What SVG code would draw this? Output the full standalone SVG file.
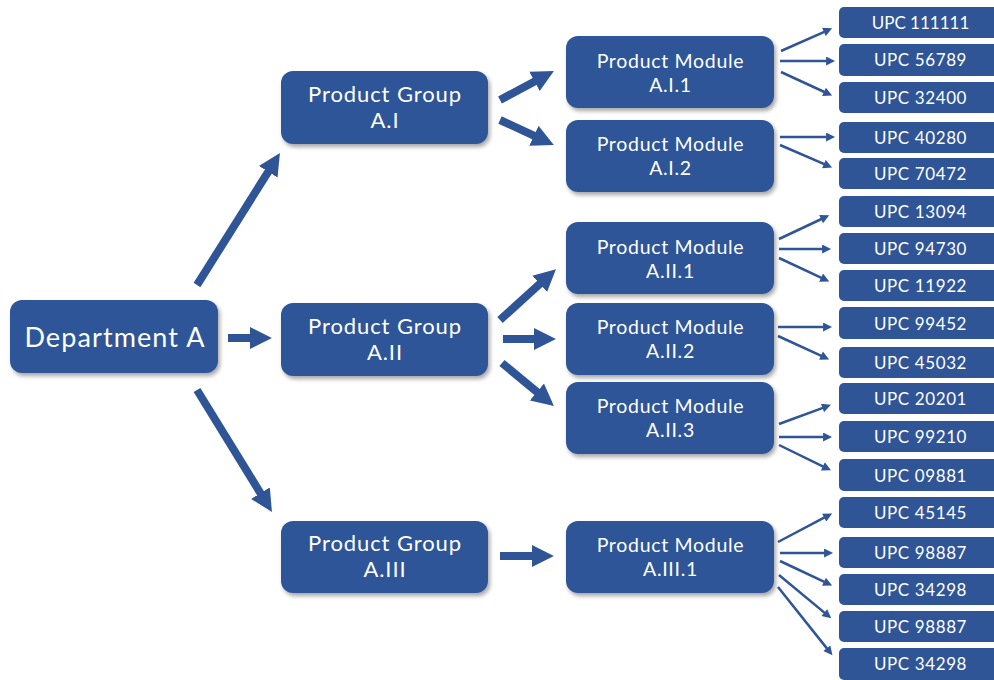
<svg xmlns="http://www.w3.org/2000/svg" width="994" height="680" viewBox="0 0 994 680">
<defs>
  <filter id="sh" x="-10%" y="-10%" width="125%" height="130%">
    <feGaussianBlur in="SourceAlpha" stdDeviation="2"/>
    <feOffset dx="2" dy="3" result="b"/>
    <feComponentTransfer><feFuncA type="linear" slope="0.35"/></feComponentTransfer>
    <feMerge><feMergeNode/><feMergeNode in="SourceGraphic"/></feMerge>
  </filter>
  <marker id="hk" viewBox="0 0 10 10" refX="0.5" refY="5" markerWidth="2.75" markerHeight="3" orient="auto" markerUnits="strokeWidth">
    <path d="M0,0 L10,5 L0,10 z" fill="#2F5597"/>
  </marker>
  <marker id="hn" viewBox="0 0 10 10" refX="0.5" refY="5" markerWidth="4" markerHeight="3.6" orient="auto" markerUnits="strokeWidth">
    <path d="M0,0 L10,5 L0,10 z" fill="#2F5597"/>
  </marker>
</defs>
<style>
  .box{fill:#2F5597;filter:url(#sh)}
  .upc{fill:#2F5597}
  text{fill:#fff;font-family:"Lato","Liberation Sans",sans-serif;text-anchor:middle}
  .t1{font-size:27px;letter-spacing:1.1px}
  .t2{font-size:22px;letter-spacing:0.9px}
  .t3{font-size:19.5px;letter-spacing:0.7px}
  .t4{font-size:17px;letter-spacing:0.6px}
  .t4n{font-size:17px;letter-spacing:0px}
  .k{stroke:#2F5597;stroke-width:8;fill:none;marker-end:url(#hk)}
  .n{stroke:#2F5597;stroke-width:2.5;fill:none;marker-end:url(#hn)}
</style>

<g id="connectors">
  <line class="k" x1="197" y1="285" x2="268.8" y2="170.8"/>
  <line class="k" x1="228" y1="338" x2="251" y2="338"/>
  <line class="k" x1="197" y1="390" x2="261" y2="494.1"/>
  <line class="k" x1="500" y1="100" x2="535.5" y2="80.9"/>
  <line class="k" x1="500" y1="120" x2="534.9" y2="136.2"/>
  <line class="k" x1="500" y1="320" x2="540.5" y2="283.2"/>
  <line class="k" x1="503" y1="339" x2="535" y2="339"/>
  <line class="k" x1="502" y1="363" x2="537.8" y2="392.6"/>
  <line class="k" x1="500" y1="556" x2="533" y2="556"/>

  <line class="n" x1="781" y1="51" x2="824.3" y2="31.8"/>
  <line class="n" x1="780" y1="61" x2="826.5" y2="61"/>
  <line class="n" x1="781" y1="72" x2="824.4" y2="92"/>
  <line class="n" x1="780" y1="137" x2="826.5" y2="137"/>
  <line class="n" x1="780" y1="145" x2="824.3" y2="164.2"/>
  <line class="n" x1="779" y1="239" x2="821.5" y2="219"/>
  <line class="n" x1="779" y1="249" x2="822.5" y2="249"/>
  <line class="n" x1="779" y1="258" x2="821.5" y2="277.8"/>
  <line class="n" x1="778" y1="327" x2="823.5" y2="327"/>
  <line class="n" x1="778" y1="336" x2="821.4" y2="355.9"/>
  <line class="n" x1="779" y1="424" x2="822.9" y2="407.8"/>
  <line class="n" x1="779" y1="437" x2="823.5" y2="437"/>
  <line class="n" x1="779" y1="445" x2="823.3" y2="466.6"/>
  <line class="n" x1="778" y1="542" x2="824.6" y2="517.4"/>
  <line class="n" x1="780" y1="553" x2="824.5" y2="553"/>
  <line class="n" x1="780" y1="561" x2="824.4" y2="581.9"/>
  <line class="n" x1="779" y1="575" x2="824.7" y2="612.9"/>
  <line class="n" x1="778" y1="587" x2="827.1" y2="648.6"/>
</g>

<g id="dept-a"><rect class="box" x="10" y="300" width="208" height="73" rx="12"/><text class="t1" x="115" y="347">Department A</text></g>

<g id="group-a1"><rect class="box" x="281" y="71" width="207" height="73" rx="12"/><text class="t2" x="385" y="102">Product Group</text><text class="t2" x="385" y="128">A.I</text></g>
<g id="group-a2"><rect class="box" x="281" y="303" width="207" height="73" rx="12"/><text class="t2" x="385" y="334">Product Group</text><text class="t2" x="385" y="360">A.II</text></g>
<g id="group-a3"><rect class="box" x="281" y="521" width="207" height="72" rx="12"/><text class="t2" x="385" y="551">Product Group</text><text class="t2" x="385" y="577">A.III</text></g>

<g id="module-a1-1"><rect class="box" x="566" y="36" width="208" height="72" rx="12"/><text class="t3" x="670.5" y="68">Product Module</text><text class="t3" x="670.5" y="92">A.I.1</text></g>
<g id="module-a1-2"><rect class="box" x="566" y="120" width="208" height="72" rx="12"/><text class="t3" x="670.5" y="151">Product Module</text><text class="t3" x="670.5" y="175">A.I.2</text></g>
<g id="module-a2-1"><rect class="box" x="566" y="222" width="208" height="72" rx="12"/><text class="t3" x="670.5" y="254">Product Module</text><text class="t3" x="670.5" y="278">A.II.1</text></g>
<g id="module-a2-2"><rect class="box" x="566" y="303" width="208" height="72" rx="12"/><text class="t3" x="670.5" y="334">Product Module</text><text class="t3" x="670.5" y="358">A.II.2</text></g>
<g id="module-a2-3"><rect class="box" x="566" y="382" width="208" height="72" rx="12"/><text class="t3" x="670.5" y="413">Product Module</text><text class="t3" x="670.5" y="437">A.II.3</text></g>
<g id="module-a3-1"><rect class="box" x="566" y="521" width="208" height="72" rx="12"/><text class="t3" x="670.5" y="552">Product Module</text><text class="t3" x="670.5" y="576">A.III.1</text></g>

<g id="upc-1"><rect class="upc" x="839" y="7" width="162" height="31" rx="5"/><text class="t4n" x="920.5" y="29">UPC 111111</text></g>
<g id="upc-2"><rect class="upc" x="839" y="44" width="162" height="32" rx="5"/><text class="t4" x="920.5" y="66">UPC 56789</text></g>
<g id="upc-3"><rect class="upc" x="839" y="82" width="162" height="31" rx="5"/><text class="t4" x="920.5" y="104">UPC 32400</text></g>
<g id="upc-4"><rect class="upc" x="839" y="122" width="162" height="31" rx="5"/><text class="t4" x="920.5" y="144">UPC 40280</text></g>
<g id="upc-5"><rect class="upc" x="839" y="158" width="162" height="31" rx="5"/><text class="t4" x="920.5" y="180">UPC 70472</text></g>
<g id="upc-6"><rect class="upc" x="839" y="196" width="162" height="31" rx="5"/><text class="t4" x="920.5" y="218">UPC 13094</text></g>
<g id="upc-7"><rect class="upc" x="839" y="233" width="162" height="31" rx="5"/><text class="t4" x="920.5" y="255">UPC 94730</text></g>
<g id="upc-8"><rect class="upc" x="839" y="270" width="162" height="31" rx="5"/><text class="t4" x="920.5" y="292">UPC 11922</text></g>
<g id="upc-9"><rect class="upc" x="839" y="307" width="162" height="32" rx="5"/><text class="t4" x="920.5" y="330">UPC 99452</text></g>
<g id="upc-10"><rect class="upc" x="839" y="347" width="162" height="31" rx="5"/><text class="t4" x="920.5" y="369">UPC 45032</text></g>
<g id="upc-11"><rect class="upc" x="839" y="383" width="162" height="31" rx="5"/><text class="t4" x="920.5" y="405">UPC 20201</text></g>
<g id="upc-12"><rect class="upc" x="839" y="421" width="162" height="31" rx="5"/><text class="t4" x="920.5" y="443">UPC 99210</text></g>
<g id="upc-13"><rect class="upc" x="839" y="459" width="162" height="32" rx="5"/><text class="t4" x="920.5" y="482">UPC 09881</text></g>
<g id="upc-14"><rect class="upc" x="839" y="497" width="162" height="31" rx="5"/><text class="t4" x="920.5" y="519">UPC 45145</text></g>
<g id="upc-15"><rect class="upc" x="839" y="537" width="162" height="31" rx="5"/><text class="t4" x="920.5" y="559">UPC 98887</text></g>
<g id="upc-16"><rect class="upc" x="839" y="574" width="162" height="31" rx="5"/><text class="t4" x="920.5" y="596">UPC 34298</text></g>
<g id="upc-17"><rect class="upc" x="839" y="611" width="162" height="31" rx="5"/><text class="t4" x="920.5" y="633">UPC 98887</text></g>
<g id="upc-18"><rect class="upc" x="839" y="648" width="162" height="32" rx="5"/><text class="t4" x="920.5" y="670">UPC 34298</text></g>
</svg>
